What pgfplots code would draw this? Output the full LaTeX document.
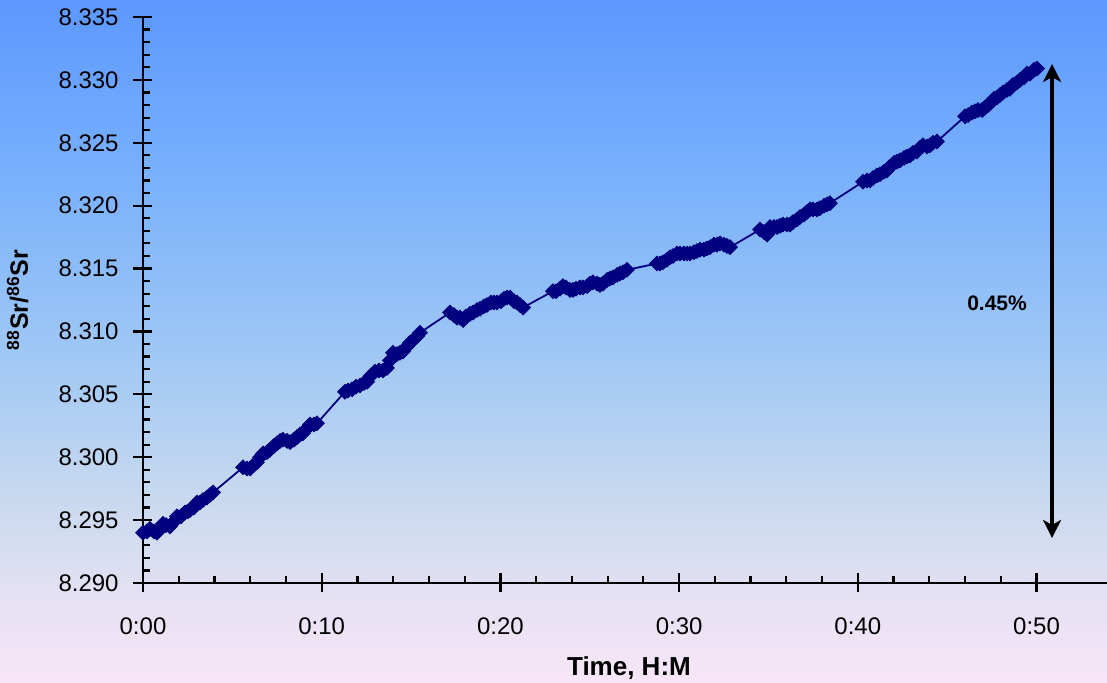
\documentclass[border=0pt]{standalone}
\usepackage{pgfplots}
\pgfplotsset{compat=1.18}
\usepackage{pgfplotstable}
\usepackage{fontspec}
\setmainfont{Liberation Sans}
\usetikzlibrary{arrows.meta}

\definecolor{bg0}{RGB}{247,230,247}
\definecolor{bg1}{RGB}{230,225,243}
\definecolor{bg2}{RGB}{200,217,239}
\definecolor{bg3}{RGB}{156,198,245}
\definecolor{bg4}{RGB}{120,176,252}
\definecolor{bg5}{RGB}{92,152,255}
\definecolor{navy}{RGB}{0,0,128}
\pgfdeclareverticalshading{bgshade}{100bp}{color(0bp)=(bg0); color(25bp)=(bg0); color(31bp)=(bg1); color(38.5bp)=(bg2); color(50bp)=(bg3); color(62.5bp)=(bg4); color(75bp)=(bg5); color(100bp)=(bg5)}

\pgfplotstableread{
t v
0.00 8.2940
0.22 8.2941
0.39 8.2943
0.62 8.2941
0.78 8.2940
0.95 8.2943
1.12 8.2947
1.29 8.2946
1.51 8.2945
1.68 8.2948
1.90 8.2953
2.13 8.2953
2.35 8.2956
2.52 8.2957
2.63 8.2958
2.85 8.2960
3.02 8.2964
3.19 8.2964
3.36 8.2966
3.58 8.2968
3.75 8.2970
3.92 8.2972
5.60 8.2992
5.82 8.2991
5.99 8.2991
6.21 8.2994
6.38 8.2996
6.55 8.3000
6.72 8.3003
6.94 8.3004
7.11 8.3006
7.33 8.3009
7.50 8.3011
7.67 8.3013
7.83 8.3014
8.06 8.3013
8.23 8.3012
8.45 8.3014
8.62 8.3016
8.79 8.3018
8.95 8.3019
9.18 8.3023
9.35 8.3026
9.57 8.3026
9.74 8.3027
11.30 8.3052
11.47 8.3053
11.70 8.3054
11.92 8.3056
12.14 8.3057
12.37 8.3059
12.54 8.3060
12.76 8.3065
12.98 8.3068
13.21 8.3069
13.43 8.3069
13.65 8.3071
13.82 8.3077
13.99 8.3083
14.21 8.3082
14.38 8.3083
14.55 8.3084
14.77 8.3088
14.94 8.3091
15.11 8.3093
15.33 8.3096
15.50 8.3099
17.18 8.3115
17.40 8.3113
17.57 8.3111
17.74 8.3111
17.91 8.3109
18.07 8.3112
18.30 8.3114
18.47 8.3115
18.69 8.3117
18.86 8.3118
19.08 8.3120
19.25 8.3121
19.47 8.3123
19.64 8.3123
19.81 8.3123
20.03 8.3124
20.20 8.3126
20.37 8.3127
20.54 8.3127
20.76 8.3124
20.93 8.3123
21.10 8.3121
21.27 8.3119
22.94 8.3132
23.11 8.3132
23.34 8.3134
23.50 8.3136
23.67 8.3135
23.89 8.3133
24.06 8.3133
24.23 8.3134
24.45 8.3135
24.62 8.3135
24.85 8.3136
25.01 8.3138
25.18 8.3139
25.41 8.3138
25.57 8.3137
25.74 8.3138
25.97 8.3141
26.13 8.3142
26.30 8.3143
26.53 8.3145
26.69 8.3146
26.86 8.3147
27.08 8.3149
28.76 8.3154
28.93 8.3154
29.10 8.3155
29.32 8.3157
29.49 8.3159
29.66 8.3160
29.88 8.3162
30.05 8.3162
30.27 8.3162
30.44 8.3162
30.61 8.3162
30.83 8.3163
31.00 8.3164
31.17 8.3165
31.39 8.3165
31.56 8.3166
31.73 8.3167
31.95 8.3169
32.12 8.3169
32.29 8.3170
32.51 8.3169
32.68 8.3168
32.85 8.3167
34.53 8.3181
34.75 8.3179
34.92 8.3177
35.09 8.3183
35.31 8.3183
35.48 8.3183
35.65 8.3184
35.81 8.3185
36.04 8.3185
36.21 8.3185
36.37 8.3187
36.60 8.3189
36.77 8.3191
36.99 8.3193
37.16 8.3195
37.33 8.3197
37.49 8.3197
37.72 8.3197
37.88 8.3198
38.11 8.3200
38.28 8.3201
38.44 8.3202
40.29 8.3219
40.51 8.3220
40.68 8.3220
40.85 8.3222
41.07 8.3224
41.24 8.3225
41.47 8.3227
41.63 8.3228
41.80 8.3231
42.03 8.3234
42.19 8.3235
42.36 8.3236
42.59 8.3238
42.75 8.3239
42.92 8.3240
43.09 8.3242
43.31 8.3243
43.48 8.3246
43.65 8.3248
43.87 8.3247
44.04 8.3248
44.21 8.3250
44.43 8.3251
46.00 8.3271
46.17 8.3272
46.39 8.3274
46.56 8.3275
46.73 8.3276
46.95 8.3276
47.12 8.3278
47.29 8.3280
47.45 8.3282
47.62 8.3285
47.79 8.3286
47.96 8.3288
48.13 8.3290
48.35 8.3292
48.52 8.3293
48.68 8.3296
48.91 8.3298
49.08 8.3300
49.30 8.3302
49.47 8.3305
49.64 8.3305
49.86 8.3308
50.03 8.3309
}\srdata

\begin{document}
\begin{tikzpicture}
\useasboundingbox (-71.5pt,-50pt) rectangle (482pt,291.5pt);
\shade[shading=bgshade] (-71.5pt,-50pt) rectangle (482pt,291.5pt);
\begin{axis}[
  at={(0pt,0pt)}, anchor=south west,
  scale only axis, width=482.5pt, height=283pt,
  xmin=0, xmax=54, ymin=8.290, ymax=8.335,
  clip=false,
  axis lines*=left,
  axis line style={line width=1.2pt, black},
  xtick={0,10,20,30,40,50},
  xticklabels={0:00,0:10,0:20,0:30,0:40,0:50},
  ytick={8.290,8.295,8.300,8.305,8.310,8.315,8.320,8.325,8.330,8.335},
  minor x tick num=4, minor y tick num=4,
  tick align=inside,
  major tick length=9.5pt, minor tick length=3.5pt,
  every tick/.append style={line width=1.1pt, black},
  every major x tick/.append style={yshift=-4.75pt},
  every major y tick/.append style={xshift=-4.75pt},
  /pgf/number format/assume math mode=true,
  yticklabel={\pgfmathprintnumber[fixed,fixed zerofill,precision=3]{\tick}},
  yticklabel style={anchor=east, inner sep=0pt, xshift=-12pt, font=\fontsize{12}{14}\selectfont},
  xticklabel style={anchor=north, inner sep=0pt, yshift=-17pt, font=\fontsize{12}{14}\selectfont},
  xlabel={\textbf{Time, H:M}},
  xlabel style={at={(axis description cs:0.5036,-0.150)}, anchor=center, font=\fontsize{13}{15}\selectfont},
  ylabel={\textbf{\textsuperscript{88}Sr/\textsuperscript{86}Sr}},
  ylabel style={at={(axis description cs:-0.130,0.5)}, anchor=center, rotate=0, font=\fontsize{12.5}{15}\selectfont},
]
\addplot[navy, line width=0.9pt, mark=square*, mark size=2.6pt, mark options={fill=navy, draw=navy, rotate=45, line width=0.4pt}] table[x=t, y=v] {\srdata};
\draw[line width=2pt, black, {Stealth[length=9pt,width=9pt,inset=2.5pt]}-{Stealth[length=9pt,width=9pt,inset=2.5pt]}] (axis cs:50.87,8.33126) -- (axis cs:50.87,8.29358);
\node[font=\fontsize{10.5}{12}\selectfont\bfseries] at (axis cs:47.79,8.31226) {0.45\%};
\end{axis}
\end{tikzpicture}
\end{document}
